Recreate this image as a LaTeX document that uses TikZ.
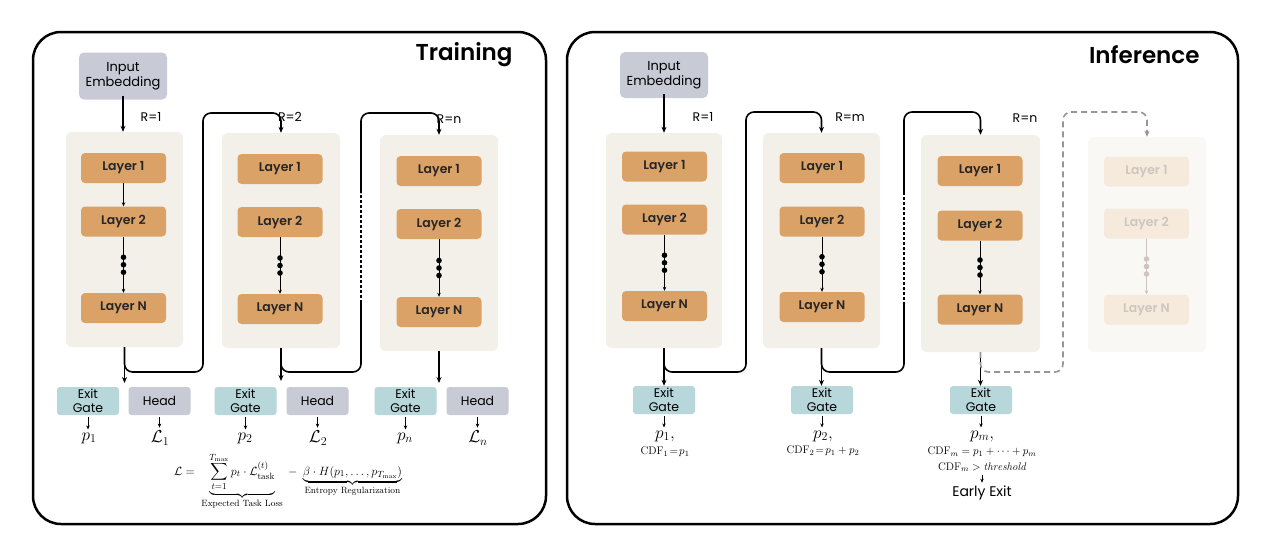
\documentclass[tikz,border=0pt]{standalone}
\usepackage{amsmath}
\usepackage{fontspec}
\setsansfont{Poppins}[BoldFont={Poppins SemiBold}]
\usetikzlibrary{arrows.meta,calc}
\definecolor{colbg}{RGB}{243,240,234}
\definecolor{layer}{RGB}{219,162,104}
\definecolor{grayb}{RGB}{200,202,214}
\definecolor{gatec}{RGB}{183,215,219}
\definecolor{fadelayer}{RGB}{246,234,221}
\definecolor{fadetext}{RGB}{206,198,190}
\definecolor{fadebg}{RGB}{250,248,245}
\definecolor{dashg}{RGB}{150,150,150}
\tikzset{
 panel/.style={line width=2.5pt, rounded corners=28pt},
 colbox/.style={fill=colbg, rounded corners=6pt, inner sep=0pt},
 layerbox/.style={fill=layer, rounded corners=4pt, minimum width=85pt, minimum height=30pt, inner sep=0pt,
   font=\sffamily\bfseries\fontsize{12.5}{14}\selectfont, text=black!85},
 fadebox/.style={layerbox, fill=fadelayer, text=fadetext},
 layerarr/.style={line width=0.8pt, -{Stealth[length=4pt,width=3.5pt]}},
 fadearr/.style={line width=0.8pt, draw=fadetext, -{Stealth[length=4pt,width=3.5pt]}},
 layerdot/.style={fill=black},
 fadedot/.style={fill=fadetext},
 graybox/.style={fill=grayb, rounded corners=5pt, align=center, inner sep=0pt,
   font=\sffamily\fontsize{13}{15.5}\selectfont},
 gatebox/.style={fill=gatec, rounded corners=3pt, minimum width=62pt, minimum height=28pt, inner sep=0pt,
   align=center, font=\sffamily\fontsize{12.5}{13.5}\selectfont},
 headbox/.style={gatebox, fill=grayb},
 conn/.style={line width=1.6pt, -{Stealth[length=6pt,width=5pt]}},
 plainline/.style={line width=1.6pt},
 tarr/.style={line width=0.8pt, -{Stealth[length=4pt,width=3.5pt]}, shorten <=2pt, shorten >=2pt},
 rlab/.style={font=\sffamily\fontsize{12.5}{14}\selectfont},
 plab/.style={font=\fontsize{17}{19}\selectfont, inner sep=1pt},
 cdf/.style={font=\fontsize{11}{13}\selectfont, inner sep=1pt},
 title/.style={anchor=east, font=\sffamily\bfseries\fontsize{23}{27}\selectfont},
}
\newcommand{\LayerStack}[6]{%
 \node[#6box] (#1a) at (#2,#3) {Layer 1};
 \node[#6box] (#1b) at (#2,#4) {Layer 2};
 \node[#6box] (#1n) at (#2,#5) {Layer N};
 \draw[#6arr] (#1b) -- (#1n);
 \foreach \d in {-7.5,0,7.5} \fill[#6dot] ($(#1b.south)!0.5!(#1n.north)+(0,\d)$) circle (2.8pt);
}
\begin{document}
\begin{tikzpicture}[x=1pt,y=-1pt]
\useasboundingbox (0,0) rectangle (1280,544);
\fill[white] (0,0) rectangle (1280,544);
% panels
\draw[panel] (33,32) rectangle (546,524);
\draw[panel] (567,32) rectangle (1238,524);
\node[title] (tt) at (516,55) {Training};
\node[title] (ti) at (1203,55) {Inference};

% ===== Training =====
\node[graybox, minimum width=88pt, minimum height=47pt] (ie1) at (123,76) {Input\\Embedding};
\node[colbox, minimum width=117pt, minimum height=215pt] (c1) at (124.5,239.5) {};
\node[colbox, minimum width=118pt, minimum height=215pt] (c2) at (281,240.5) {};
\node[colbox, minimum width=118pt, minimum height=216pt] (c3) at (439,243) {};
\LayerStack{t1}{123.5}{168}{221.5}{308}{layer}
\draw[layerarr] (t1a) -- (t1b);
\LayerStack{t2}{280}{169}{222}{309}{layer}
\LayerStack{t3}{439}{171}{224}{312}{layer}
\node[rlab] (r1) at (151,117) {R=1};
\node[rlab] (r2) at (290,117) {R=2};
\node[rlab] (r3) at (449,119) {R=n};
\draw[conn] (ie1.south) ++(0,4pt) coordinate (ie1s) (ie1.south |- ie1s) -- (ie1.south |- c1.north);

\coordinate (u1) at (203,372); \coordinate (v1) at (203,113);
\coordinate (u2) at (361,372); \coordinate (d2a) at (361,303); \coordinate (d2b) at (361,193); \coordinate (v2) at (361,113);
\coordinate (e1) at (124.5,383); \coordinate (e2) at (281,381); \coordinate (e3) at (439,383);
\draw[conn] (c1.south) -- (e1);
\draw[conn] (c2.south) -- (e2);
\draw[conn] (c3.south) -- (e3);
\draw[plainline, rounded corners=8pt, -{Stealth[length=6pt,width=5pt]}] (c1.south) |- (u1) -- (v1) -| (c2.north);
\draw[plainline, rounded corners=8pt] (c2.south) |- (u2) -- (d2a);
\draw[line width=1.2pt, dash pattern=on 3pt off 2pt] (d2a) -- (d2b);
\draw[plainline, rounded corners=8pt, -{Stealth[length=6pt,width=5pt]}] (d2b) -- (v2) -| (c3.north);

\node[gatebox] (g1) at (88,401) {Exit\\Gate};
\node[headbox] (h1) at (159.5,401) {Head};
\node[gatebox] (g2) at (245.5,401) {Exit\\Gate};
\node[headbox] (h2) at (317.5,401) {Head};
\node[gatebox] (g3) at (405.5,401) {Exit\\Gate};
\node[headbox] (h3) at (477.5,401) {Head};
\node[plab] (p1) at (89,438) {$p_1$};
\node[plab] (l1) at (160,438) {$\mathcal{L}_1$};
\node[plab] (p2) at (245,438) {$p_2$};
\node[plab] (l2) at (318,438) {$\mathcal{L}_2$};
\node[plab] (p3) at (405,438) {$p_n$};
\node[plab] (l3) at (478,438) {$\mathcal{L}_n$};
\foreach \a/\b in {g1/p1,h1/l1,g2/p2,h2/l2,g3/p3,h3/l3} \draw[tarr] (\a.south) -- (\a.south |- \b.north);
\node (form) at (288,481) {\fontsize{13}{15}\selectfont $\displaystyle \mathcal{L} = \;\underbrace{\sum_{t=1}^{T_{\max}} p_t\cdot\mathcal{L}^{(t)}_{\text{task}}}_{\text{Expected Task Loss}} \;-\; \underbrace{\beta\cdot H(p_1,\ldots,p_{T_{\max}})}_{\text{Entropy Regularization}}$};

% ===== Inference =====
\node[graybox, minimum width=88pt, minimum height=46pt] (ie2) at (664,75) {Input\\Embedding};
\node[colbox, minimum width=116pt, minimum height=215pt] (c5) at (664,240.5) {};
\node[colbox, minimum width=117pt, minimum height=215pt] (c6) at (821.5,240.5) {};
\node[colbox, minimum width=119pt, minimum height=217pt] (c7) at (980.5,243.5) {};
\node[colbox, fill=fadebg, minimum width=118pt, minimum height=215pt] (c8) at (1147,244.5) {};
\LayerStack{i1}{664.5}{166.5}{219.5}{306}{layer}
\LayerStack{i2}{822}{168}{221.5}{307}{layer}
\LayerStack{i3}{980}{171}{225.5}{309.5}{layer}
\LayerStack{i4}{1146.5}{171.5}{223.5}{309.5}{fade}
\node[rlab] (r5) at (703,117) {R=1};
\node[rlab] (r6) at (850,117) {R=m};
\node[rlab] (r7) at (1025,118) {R=n};
\draw[conn] (ie2.south) ++(0,4pt) coordinate (ie2s) (ie2.south |- ie2s) -- (ie2.south |- c5.north);

\coordinate (u5) at (746,372); \coordinate (v5) at (746,112);
\coordinate (u6) at (904,372); \coordinate (d6a) at (904,305); \coordinate (d6b) at (904,193); \coordinate (v6) at (904,112);
\coordinate (u7) at (1063,372); \coordinate (v7) at (1063,112);
\node[gatebox] (g5) at (664,400) {Exit\\Gate};
\node[gatebox] (g6) at (822,400) {Exit\\Gate};
\node[gatebox] (g7) at (981,400) {Exit\\Gate};
\draw[conn] (c5.south) -- (c5.south |- g5.north);
\draw[conn] (c6.south) -- (c6.south |- g6.north);
\draw[conn] (c7.south) -- (c7.south |- g7.north);
\draw[plainline, rounded corners=8pt, -{Stealth[length=6pt,width=5pt]}] (c5.south) |- (u5) -- (v5) -| (c6.north);
\draw[plainline, rounded corners=8pt] (c6.south) |- (u6) -- (d6a);
\draw[line width=1.2pt, dash pattern=on 3pt off 2pt] (d6a) -- (d6b);
\draw[plainline, rounded corners=8pt, -{Stealth[length=6pt,width=5pt]}] (d6b) -- (v6) -| (c7.north);
\draw[line width=1.6pt, draw=dashg, dash pattern=on 6pt off 4pt, rounded corners=8pt, -{Stealth[length=6pt,width=5pt]}] (c7.south) |- (u7) -- (v7) -| (c8.north);

\node[plab] (q5) at (665,436) {$p_1,$};
\node[plab] (q6) at (823,436) {$p_2,$};
\node[plab] (q7) at (982,436) {$p_m,$};
\foreach \a/\b in {g5/q5,g6/q6,g7/q7} \draw[tarr] (\a.south) -- (\a.south |- \b.north);
\node[cdf] (f5) at (665,452) {$\mathrm{CDF}_1\!=\!p_1$};
\node[cdf] (f6) at (823,451) {$\mathrm{CDF}_2\!=\!p_1+p_2$};
\node[cdf] (f7) at (982,452) {$\mathrm{CDF}_m = p_1+\cdots+p_m$};
\node[cdf] (f8) at (982,467) {$\mathrm{CDF}_m > \mathit{threshold}$};
\node[font=\sffamily\fontsize{14}{16}\selectfont, inner sep=1pt] (ee) at (982,493) {Early Exit};
\draw[tarr] (f8.south) -- (f8.south |- ee.north);
\end{tikzpicture}
\end{document}
